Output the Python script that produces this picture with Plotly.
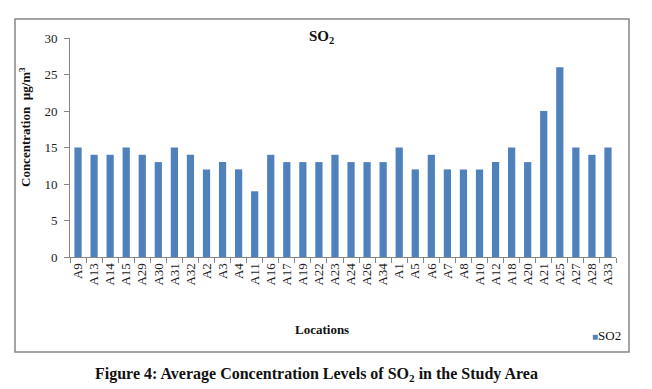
import plotly.graph_objects as go

locations = ["A9", "A13", "A14", "A15", "A29", "A30", "A31", "A32", "A2", "A3", "A4",
             "A11", "A16", "A17", "A19", "A22", "A23", "A24", "A26", "A34", "A1", "A5",
             "A6", "A7", "A8", "A10", "A12", "A18", "A20", "A21", "A25", "A27", "A28", "A33"]
so2 = [15, 14, 14, 15, 14, 13, 15, 14, 12, 13, 12,
       9, 14, 13, 13, 13, 14, 13, 13, 13, 15, 12,
       14, 12, 12, 12, 13, 15, 13, 20, 26, 15, 14, 15]
y_ticks = [0, 5, 10, 15, 20, 25, 30]
BAR_COLOR = "#4F81BD"

W, H = 652, 389
OFF = 8  # page body margin in the browser
# plot area in page pixels
PL, PT, PR, PB = 70, 38, 616, 257
L, T = PL - OFF, PT - OFF
R, B = W - (PR - OFF), H - (PB - OFF)
pw, ph = PR - PL, PB - PT

def px(x):
    return (x - PL) / pw

def py(y):
    return (PB - y) / ph

SERIF = "Liberation Serif, Times New Roman, serif"

fig = go.Figure()
fig.add_trace(go.Bar(x=locations, y=so2, name="SO2", marker_color=BAR_COLOR,
                     marker_line_width=0, showlegend=False))

fig.update_layout(
    width=W, height=H,
    margin=dict(l=L, r=R, t=T, b=B, autoexpand=False),
    paper_bgcolor="white", plot_bgcolor="white",
    bargap=0.55,
    showlegend=False,
    font=dict(family=SERIF, color="#222"),
)
fig.update_xaxes(type="category", tickmode="array", tickvals=locations, ticktext=locations,
                 automargin=False,
                 showline=True, linecolor="#868686", linewidth=1,
                 ticks="outside", tickcolor="#868686", ticklen=5, tickson="boundaries",
                 tickangle=-90, tickfont=dict(family=SERIF, size=13, color="#222"),
                 showgrid=False)
fig.update_yaxes(range=[0, 30], tickvals=y_ticks, automargin=False, showline=True,
                 linecolor="#868686", linewidth=1, ticks="outside", tickcolor="#868686",
                 ticklen=5, tickfont=dict(family=SERIF, size=13, color="#222"),
                 showgrid=False, zeroline=False, ticklabelstandoff=4)

# outer chart border
fig.add_shape(type="rect", xref="paper", yref="paper",
              x0=px(15), x1=px(629), y0=py(352), y1=py(19),
              line=dict(color="#868686", width=1.5), fillcolor="rgba(0,0,0,0)")

annots = [
    dict(text="<b>SO<sub>2</sub></b>", x=px(321), y=py(37), size=15),
    dict(text="<b>Locations</b>", x=px(322), y=py(329), size=13),
    dict(text="<b>Concentration  µg/m<sup>3</sup></b>", x=px(25), y=py(127), size=13, angle=-90),
    dict(text="<b>Figure 4: Average Concentration Levels of SO<sub>2</sub> in the Study Area</b>",
         x=px(316), y=py(374), size=16),
    dict(text=f"<span style='color:{BAR_COLOR};font-size:10px'>■</span>SO2",
         x=px(606), y=py(335), size=13),
]
for a in annots:
    fig.add_annotation(text=a["text"], x=a["x"], y=a["y"], xref="paper", yref="paper",
                       showarrow=False, xanchor="center", yanchor="middle",
                       textangle=a.get("angle", 0),
                       font=dict(family=SERIF, size=a["size"], color="#111"))

fig.write_html("out.html")
